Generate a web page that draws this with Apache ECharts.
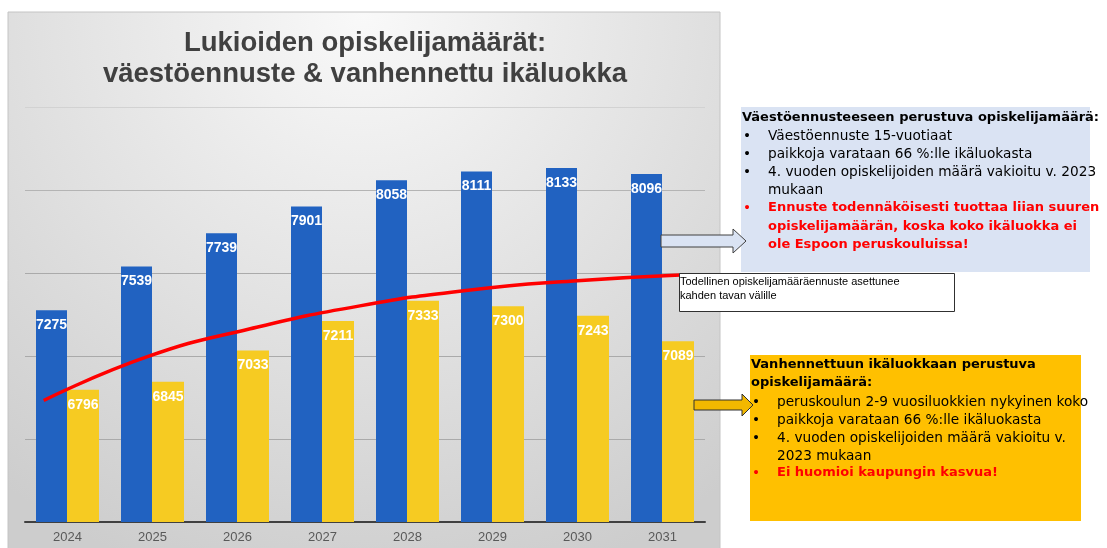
<!DOCTYPE html>
<html>
<head>
<meta charset="utf-8">
<script src="https://cdn.jsdelivr.net/npm/echarts@6/dist/echarts.min.js"></script>
<style>
  html, body { margin: 0; padding: 0; background: #fff; }
  #main { width: 1107px; height: 548px; }
</style>
</head>
<body>
<div id="main"></div>
<script>
  // Vuodet ja opiskelijamäärät
  const years = ["2024", "2025", "2026", "2027", "2028", "2029", "2030", "2031"];
  const populationForecast = [7275, 7539, 7739, 7901, 8058, 8111, 8133, 8096];
  const agedCohort = [6796, 6845, 7033, 7211, 7333, 7300, 7243, 7089];

  // Punainen käsin piirretty käyrä (x kategoriayksiköissä, y opiskelijamäärä)
  const curveX = [0.22, 1.44, 2.65, 3.94, 5.24, 6.45, 7.71];
  const curveY = [6732, 6996, 7164, 7302, 7398, 7452, 7488];

  const font = "Liberation Sans, Arial, sans-serif";
  const boxFont = "DejaVu Sans, sans-serif";
  const chart = echarts.init(document.getElementById("main"));

  function txt(text, x, y, opts) {
    opts = opts || {};
    return {
      type: "text",
      z: 100,
      style: {
        text: text,
        x: x,
        y: y,
        fill: opts.color || "#000",
        font: (opts.bold ? "bold " : "") + (opts.size || 13.7) + "px " + (opts.family || boxFont),
        textVerticalAlign: "middle",
        textAlign: opts.align || "left"
      }
    };
  }

  const red = "#ff0000";
  const graphics = [
    // harmaa tausta
    {
      type: "rect",
      z: -10,
      shape: { x: 8, y: 12, width: 712, height: 540 },
      style: {
        fill: {
          type: "radial", x: 0.5, y: 0, r: 1.1,
          colorStops: [
            { offset: 0, color: "#f9f9f9" },
            { offset: 1, color: "#cdcdcd" }
          ]
        },
        stroke: "#c4c4c4",
        lineWidth: 1
      }
    },
    txt("Lukioiden opiskelijamäärät:", 365, 43, { bold: true, size: 27.5, color: "#404040", align: "center", family: font }),
    txt("väestöennuste & vanhennettu ikäluokka", 365, 74, { bold: true, size: 27.5, color: "#404040", align: "center", family: font }),

    // sininen laatikko
    {
      type: "rect", z: 90,
      shape: { x: 741, y: 107, width: 349, height: 165 },
      style: { fill: "#dae3f3" }
    },
    txt("Väestöennusteeseen perustuva opiskelijamäärä:", 742, 118, { bold: true, size: 13 }),
    txt("•", 743, 136), txt("Väestöennuste 15-vuotiaat", 768, 136),
    txt("•", 743, 154), txt("paikkoja varataan 66 %:lle ikäluokasta", 768, 154),
    txt("•", 743, 172), txt("4. vuoden opiskelijoiden määrä vakioitu v. 2023", 768, 172),
    txt("mukaan", 768, 190),
    txt("•", 743, 208, { color: red }),
    txt("Ennuste todennäköisesti tuottaa liian suuren", 768, 208, { bold: true, size: 13, color: red }),
    txt("opiskelijamäärän, koska koko ikäluokka ei", 768, 227, { bold: true, size: 13, color: red }),
    txt("ole Espoon peruskouluissa!", 768, 245, { bold: true, size: 13, color: red }),

    // nuoli sinisen laatikon suuntaan
    {
      type: "polygon", z: 95,
      shape: { points: [[661, 235], [733, 235], [733, 229], [746, 241], [733, 253], [733, 247], [661, 247]] },
      style: { fill: "#dae3f3", stroke: "#404040", lineWidth: 1 }
    },

    // valkoinen selitelaatikko
    {
      type: "rect", z: 90,
      shape: { x: 679.5, y: 273.5, width: 275, height: 38 },
      style: { fill: "#fff", stroke: "#303030", lineWidth: 1 }
    },
    txt("Todellinen opiskelijamääräennuste asettunee", 680, 282, { size: 11, family: font }),
    txt("kahden tavan välille", 680, 296, { size: 11, family: font }),

    // oranssi laatikko
    {
      type: "rect", z: 90,
      shape: { x: 750, y: 355, width: 331, height: 166 },
      style: { fill: "#ffc000" }
    },
    txt("Vanhennettuun ikäluokkaan perustuva", 751, 365, { bold: true, size: 13 }),
    txt("opiskelijamäärä:", 751, 383, { bold: true, size: 13 }),
    txt("•", 752, 402), txt("peruskoulun 2-9 vuosiluokkien nykyinen koko", 777, 402),
    txt("•", 752, 420), txt("paikkoja varataan 66 %:lle ikäluokasta", 777, 420),
    txt("•", 752, 438), txt("4. vuoden opiskelijoiden määrä vakioitu v.", 777, 438),
    txt("2023 mukaan", 777, 456),
    txt("•", 752, 473, { color: red }),
    txt("Ei huomioi kaupungin kasvua!", 777, 473, { bold: true, size: 13, color: red }),

    // nuoli oranssin laatikon suuntaan
    {
      type: "polygon", z: 95,
      shape: { points: [[694, 400], [742, 400], [742, 394], [753, 405], [742, 416], [742, 410], [694, 410]] },
      style: { fill: "#f2b800", stroke: "#303030", lineWidth: 1 }
    }
  ];

  const barLabel = {
    show: true,
    position: "insideTop",
    distance: 8,
    color: "#fff",
    fontFamily: font,
    fontWeight: "bold",
    fontSize: 14
  };

  const option = {
    animation: false,
    backgroundColor: "#fff",
    grid: { left: 25, right: 402, top: 107, bottom: 26 },
    xAxis: [
      {
        type: "category",
        data: years,
        axisLine: { lineStyle: { color: "#404040", width: 2 } },
        axisTick: { show: false },
        axisLabel: { color: "#595959", fontSize: 13, fontFamily: font, margin: 9 }
      },
      { type: "value", min: 0, max: 8, show: false }
    ],
    yAxis: {
      type: "value",
      min: 6000,
      max: 8500,
      interval: 500,
      axisLabel: { show: false },
      axisLine: { show: false },
      axisTick: { show: false },
      splitLine: {
        lineStyle: {
          color: ["#aaaaaa", "#aaaaaa", "#aaaaaa", "#aaaaaa", "#b4b4b4", "#d2d2d2"],
          width: 1
        }
      }
    },
    series: [
      {
        name: "Väestöennuste",
        type: "bar",
        data: populationForecast,
        barWidth: 31,
        barGap: "0%",
        itemStyle: { color: "#2162c1" },
        label: barLabel
      },
      {
        name: "Vanhennettu ikäluokka",
        type: "bar",
        data: agedCohort,
        barWidth: 32,
        itemStyle: { color: "#f6cb22" },
        label: barLabel
      },
      {
        name: "Arvio",
        type: "line",
        xAxisIndex: 1,
        data: curveX.map((x, i) => [x, curveY[i]]),
        smooth: true,
        showSymbol: false,
        lineStyle: { color: red, width: 3.5 },
        z: 10
      }
    ],
    graphic: graphics
  };

  chart.setOption(option);
</script>
</body>
</html>
